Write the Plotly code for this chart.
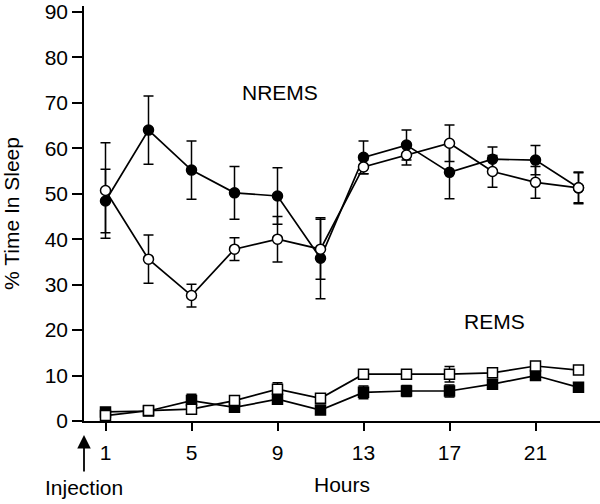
import plotly.graph_objects as go

hours = [1, 3, 5, 7, 9, 11, 13, 15, 17, 19, 21, 23]

nrem_filled = [48.4, 64.0, 55.2, 50.2, 49.5, 35.8, 58.0, 60.7, 54.7, 57.6, 57.4, 51.3]
nrem_filled_err = [7.0, 7.5, 6.4, 5.8, 6.2, 8.9, 3.6, 3.3, 5.8, 2.7, 3.2, 3.3]
nrem_open = [50.7, 35.6, 27.6, 37.8, 40.0, 37.8, 55.9, 58.5, 61.1, 54.9, 52.5, 51.3]
nrem_open_err = [10.5, 5.3, 2.5, 2.5, 5.0, 6.6, 1.5, 2.2, 4.0, 3.5, 3.5, 3.5]

rem_open = [1.2, 2.3, 2.6, 4.5, 7.0, 5.0, 10.3, 10.3, 10.3, 10.6, 12.1, 11.2]
rem_open_err = [0.6, 0.6, 0.8, 0.8, 1.4, 0.8, 0.9, 1.0, 1.7, 0.9, 0.7, 0.6]
rem_filled = [2.0, 2.2, 4.5, 3.0, 4.8, 2.4, 6.3, 6.6, 6.6, 8.1, 10.0, 7.4]
rem_filled_err = [0.6, 0.6, 1.4, 0.6, 0.8, 0.8, 1.4, 1.2, 1.3, 1.0, 1.0, 0.7]

x_ticks = [1, 5, 9, 13, 17, 21]
y_ticks = [0, 10, 20, 30, 40, 50, 60, 70, 80, 90]

FONT = "Liberation Sans, Arial, Helvetica, sans-serif"
FS = 21
TFS = 21

fig = go.Figure()

def add(y, err, symbol, fill):
    fig.add_trace(go.Scatter(
        x=hours, y=y, mode="lines+markers",
        line=dict(color="black", width=1.7),
        marker=dict(symbol=symbol, size=10, color=fill,
                    line=dict(color="black", width=1.5)),
        error_y=dict(type="data", array=err, visible=True, color="black",
                     thickness=1.5, width=5),
        showlegend=False, cliponaxis=False,
    ))

add(nrem_filled, nrem_filled_err, "circle", "black")
add(nrem_open, nrem_open_err, "circle", "white")
add(rem_filled, rem_filled_err, "square", "black")
add(rem_open, rem_open_err, "square", "white")

fig.update_layout(
    width=600, height=504,
    margin=dict(l=84, r=0, t=6, b=83),
    paper_bgcolor="white", plot_bgcolor="white",
    font=dict(family=FONT, size=FS, color="black"),
    xaxis=dict(range=[0, 24], tickvals=x_ticks, ticks="outside", ticklen=8,
               tickwidth=1.5, tickcolor="black", showline=True, linecolor="black",
               linewidth=1.5, showgrid=False, zeroline=False,
               tickfont=dict(size=TFS, color="black"), ticklabelstandoff=4,
               title=dict(text="Hours", font=dict(size=FS, color="black"), standoff=14)),
    yaxis=dict(range=[0, 91.3], tickvals=y_ticks, ticks="outside", ticklen=10,
               tickwidth=1.5, tickcolor="black", showline=True, linecolor="black",
               linewidth=1.5, showgrid=False, zeroline=False,
               tickfont=dict(size=TFS, color="black"),
               title=dict(text="% Time In Sleep", font=dict(size=FS, color="black"), standoff=23)),
)

fig.add_annotation(x=9.1, y=72.2, text="NREMS", showarrow=False,
                   font=dict(size=FS, color="black"), xref="x", yref="y")
fig.add_annotation(x=19.1, y=22.0, text="REMS", showarrow=False,
                   font=dict(size=FS, color="black"), xref="x", yref="y")
fig.add_annotation(xref="paper", yref="paper", x=0, y=-0.034, ax=0, ay=38,
                   text="", showarrow=True, arrowhead=2, arrowsize=1.5,
                   arrowwidth=1.8, arrowcolor="black")
fig.add_annotation(xref="paper", yref="paper", x=0, y=-0.16, xanchor="center",
                   yanchor="middle", text="Injection", showarrow=False,
                   font=dict(size=FS, color="black"))

fig.write_html("out.html", config={"displayModeBar": False},
               post_script="document.body.style.margin='0';document.body.style.padding='0';")
